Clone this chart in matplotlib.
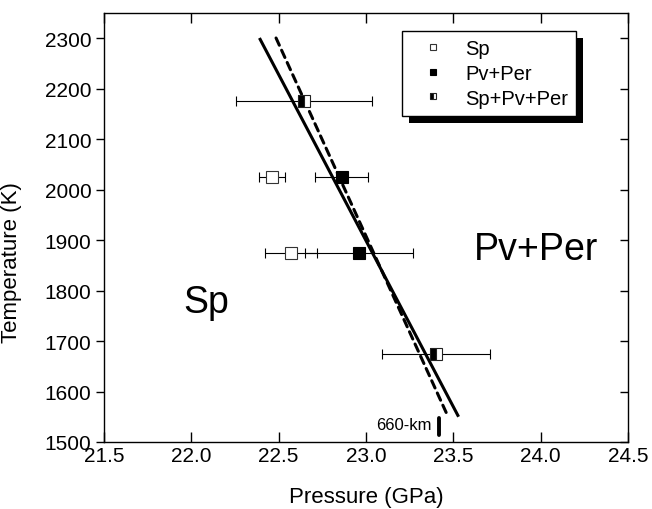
import matplotlib.pyplot as plt
from matplotlib.patches import Rectangle

plt.rcParams['font.family'] = ['Liberation Sans', 'DejaVu Sans']

# data
sp_p = [22.46, 22.57]
sp_T = [2025, 1875]
sp_err = [0.075, 0.15]

pv_p = [22.86, 22.96]
pv_T = [2025, 1875]
pv_err = [0.15, 0.31]

mix_p = [22.645, 23.40]
mix_T = [2175, 1675]
mix_err = [0.39, 0.31]

solid_p = [22.39, 23.53]
solid_T = [2300, 1550]
dashed_p = [22.485, 23.47]
dashed_T = [2300, 1550]
km660_p = [23.42, 23.42]
km660_T = [1514, 1548]

xticks = [21.5, 22.0, 22.5, 23.0, 23.5, 24.0, 24.5]
yticks = [1500, 1600, 1700, 1800, 1900, 2000, 2100, 2200, 2300]

fig = plt.figure(figsize=(6.52, 5.10), dpi=100)
ax = fig.add_axes([104 / 652, 67 / 510, 524 / 652, 429.25 / 510])

# phase boundaries
ax.plot(solid_p, solid_T, color='black', lw=2.2, solid_capstyle='butt', zorder=2)
ax.plot(dashed_p, dashed_T, color='black', lw=2.2, linestyle=(0, (2.6, 1.8)),
        dash_capstyle='round', zorder=2)
ax.plot(km660_p, km660_T, color='black', lw=2.8, solid_capstyle='round', zorder=2)

eb = dict(ecolor='black', elinewidth=0.8, capsize=3.3, capthick=0.8, linestyle='none', zorder=3)
ax.errorbar(sp_p, sp_T, xerr=sp_err, **eb)
ax.errorbar(pv_p, pv_T, xerr=pv_err, **eb)
ax.errorbar(mix_p, mix_T, xerr=mix_err, **eb)

ms = 8.6
ax.plot(sp_p, sp_T, 's', ms=ms, mfc='white', mec='#333333', mew=0.8, zorder=4)
ax.plot(pv_p, pv_T, 's', ms=ms, mfc='black', mec='black', mew=0.8, zorder=4)
ax.plot(mix_p, mix_T, 's', ms=ms, fillstyle='left', mfc='black', mfcalt='white',
        mec='#222222', mew=0.8, zorder=4)

# legend handles
h1, = ax.plot([], [], 's', ms=5, mfc='white', mec='#333333', mew=0.8)
h2, = ax.plot([], [], 's', ms=5, mfc='black', mec='black', mew=0.8)
h3, = ax.plot([], [], 's', ms=5, fillstyle='left', mfc='black', mfcalt='white',
              mec='#222222', mew=0.8)
leg = ax.legend([h1, h2, h3], ['Sp', 'Pv+Per', 'Sp+Pv+Per'], loc='upper left',
                bbox_to_anchor=(0.5687, 0.957), borderaxespad=0, fontsize=14.5,
                frameon=True, fancybox=False, edgecolor='black', framealpha=1,
                borderpad=0.4, labelspacing=0.28, handlelength=2.3, handletextpad=0.45)
leg.get_frame().set_linewidth(1.0)
leg.set_zorder(6)

ax.text(21.955, 1757, 'Sp', fontsize=27, ha='left', va='baseline')
ax.text(23.62, 1862, 'Pv+Per', fontsize=27, ha='left', va='baseline')
ax.text(23.373, 1534, '660-km', fontsize=12, ha='right', va='center')

ax.set_xlim(21.5, 24.5)
ax.set_ylim(1500, 2350)
ax.set_xticks(xticks)
ax.set_xticklabels(['%.1f' % v for v in xticks])
ax.set_yticks(yticks)
ax.tick_params(axis='x', direction='in', length=7, width=1, labelsize=15, pad=3,
               top=True)
ax.tick_params(axis='y', direction='out', length=6, width=1, labelsize=15, pad=3)
ax.tick_params(axis='y', which='both', right=True)
for t in ax.yaxis.get_ticklines()[1::2]:
    t.set_marker(0)  # right ticks point inward
for s in ax.spines.values():
    s.set_linewidth(1.0)

ax.set_xlabel('Pressure (GPa)', fontsize=16)
ax.set_ylabel('Temperature (K)', fontsize=16)
ax.xaxis.set_label_coords(0.5, -0.1025)
ax.yaxis.set_label_coords(-0.1565, 0.42)

# solid black shadow behind the legend box
fig.canvas.draw()
bb = leg.get_window_extent()
off = 7
shadow = Rectangle((bb.x0 + off, bb.y0 - off), bb.width, bb.height,
                   transform=None, facecolor='black', edgecolor='none', zorder=5)
ax.add_artist(shadow)

fig.savefig('out.png', dpi=100)
